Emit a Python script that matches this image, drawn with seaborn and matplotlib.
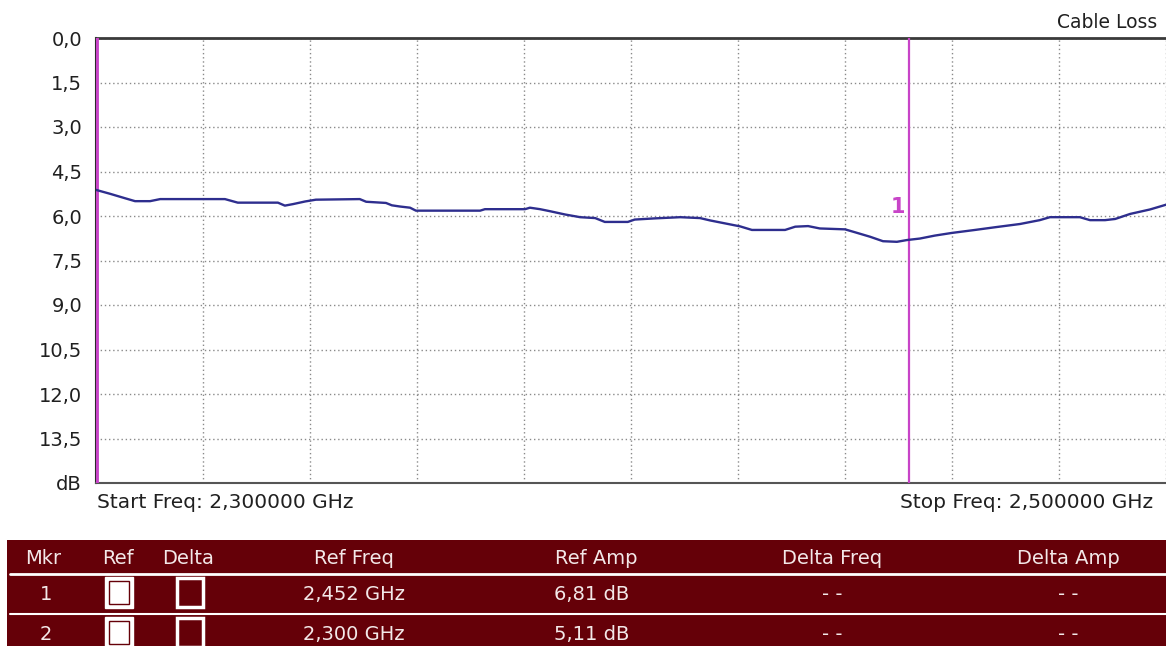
import numpy as np
import pandas as pd
import matplotlib.pyplot as plt
import seaborn as sns
from matplotlib.patches import Rectangle

# trace (GHz, dB)
freq_ghz = [2.3000, 2.3026, 2.3054, 2.3073, 2.3101, 2.3120, 2.3241, 2.3265, 2.3340, 2.3353,
            2.3368, 2.3391, 2.3411, 2.3493, 2.3505, 2.3542, 2.3553, 2.3568, 2.3587, 2.3598,
            2.3718, 2.3727, 2.3802, 2.3811, 2.3830, 2.3849, 2.3877, 2.3905, 2.3933, 2.3951,
            2.3994, 2.4007, 2.4045, 2.4092, 2.4129, 2.4148, 2.4176, 2.4204, 2.4226, 2.4288,
            2.4307, 2.4331, 2.4353, 2.4400, 2.4419, 2.4447, 2.4471, 2.4497, 2.4516, 2.4540,
            2.4568, 2.4600, 2.4643, 2.4680, 2.4727, 2.4764, 2.4783, 2.4839, 2.4858, 2.4886,
            2.4905, 2.4933, 2.4970, 2.5000]
loss_db = [5.12, 5.25, 5.40, 5.50, 5.50, 5.43, 5.43, 5.55, 5.55, 5.65,
           5.60, 5.51, 5.45, 5.43, 5.52, 5.56, 5.64, 5.68, 5.72, 5.82,
           5.82, 5.77, 5.77, 5.72, 5.77, 5.84, 5.95, 6.04, 6.07, 6.20,
           6.20, 6.12, 6.08, 6.04, 6.07, 6.15, 6.25, 6.35, 6.47, 6.47,
           6.36, 6.34, 6.42, 6.45, 6.55, 6.70, 6.85, 6.87, 6.81, 6.76,
           6.66, 6.57, 6.47, 6.38, 6.27, 6.14, 6.04, 6.04, 6.14, 6.14,
           6.10, 5.93, 5.78, 5.62]

marker_ids = ["1", "2"]
marker_freq = [2.452, 2.300]
marker_amp = [6.81, 5.11]

table_cols = ["Mkr", "Ref", "Delta", "Ref Freq", "Ref Amp", "Delta Freq", "Delta Amp"]
y_ticks = np.arange(0, 15.1, 1.5)
y_labels = ["0,0", "1,5", "3,0", "4,5", "6,0", "7,5", "9,0", "10,5", "12,0", "13,5", "dB"]
x_grid = np.linspace(2.30, 2.50, 11)
title = "Cable Loss"
start_label = "Start Freq: 2,300000 GHz"
stop_label = "Stop Freq: 2,500000 GHz"

sns.set_style("white")
plt.rcParams["font.family"] = ["DejaVu Sans"]

W, H = 1166, 646
fig = plt.figure(figsize=(W / 100, H / 100), dpi=100)

# pixel-space overlay for the texts and the marker table
bg = fig.add_axes([0, 0, 1, 1])
bg.set_xlim(0, W)
bg.set_ylim(H, 0)
bg.axis("off")

ax = fig.add_axes([96 / W, 1 - 483 / H, 1070 / W, 445 / H])
df = pd.DataFrame({"freq": freq_ghz, "loss": loss_db})
sns.lineplot(data=df, x="freq", y="loss", ax=ax, color="#2e2e8e", lw=1.7, zorder=4)

ax.set_xlim(2.30, 2.50)
ax.set_ylim(15, 0)
ax.set_xticks(x_grid)
ax.set_xticklabels([])
ax.set_yticks(y_ticks)
ax.set_yticklabels(y_labels, fontsize=14, color="#202020")
ax.tick_params(axis="both", length=0)
ax.tick_params(axis="y", pad=10)
ax.set_xlabel("")
ax.set_ylabel("")
ax.set_axisbelow(True)
ax.grid(True, color="#8a8a8a", ls=(0, (1, 2)), lw=1)

ax.spines["right"].set_visible(False)
ax.spines["top"].set_color("#3a3a3a")
ax.spines["top"].set_linewidth(2)
ax.spines["left"].set_color("#2a2a2a")
ax.spines["left"].set_linewidth(1.5)
ax.spines["bottom"].set_color("#555555")
ax.spines["bottom"].set_linewidth(1.5)

# markers
mag = "#c844c8"
for mid, mf, ma in zip(marker_ids, marker_freq, marker_amp):
    ax.axvline(mf, color=mag, lw=1.6 if mf > 2.30 else 3.5, zorder=3)
    if mf > 2.30:
        ax.annotate(mid, (mf, ma), xytext=(-3, 24), textcoords="offset points",
                    ha="right", va="center", fontsize=15, fontweight="bold", color=mag)

bg.text(1157, 22, title, ha="right", va="center", fontsize=13.5, color="#202020")
bg.text(97, 503, start_label, ha="left", va="center", fontsize=14.5, color="#202020")
bg.text(1153, 503, stop_label, ha="right", va="center", fontsize=14.5, color="#202020")

# marker table
maroon = "#650008"
txt = "#f3e8e8"
bg.add_patch(Rectangle((7, 540), W - 7, H - 540, fc=maroon, ec="none"))
bg.plot([10, W], [574, 574], color="white", lw=2)
bg.plot([10, W], [614, 614], color="white", lw=1.5)

col_x = [43, 118, 188, 354, 596, 832, 1068]
for name, cx in zip(table_cols, col_x):
    bg.text(cx, 558, name, ha="center", va="center", fontsize=14, color=txt)

row_y = [595, 635]
for mid, mf, ma, ry in zip(marker_ids, marker_freq, marker_amp, row_y):
    bg.text(col_x[0] + 3, ry, mid, ha="center", va="center", fontsize=14, color=txt)
    # Ref checkbox (white) and Delta checkbox (empty)
    bx = col_x[1] + 1
    bg.add_patch(Rectangle((bx - 14, ry - 18), 28, 31, fc="white", ec="white", lw=1))
    bg.add_patch(Rectangle((bx - 10, ry - 14), 20, 23, fc="white", ec=maroon, lw=1))
    dx = col_x[2] + 2
    bg.add_patch(Rectangle((dx - 13, ry - 17), 26, 29, fc="none", ec="white", lw=2.5))
    bg.text(col_x[3], ry, f"{mf:.3f} GHz".replace(".", ","), ha="center", va="center",
            fontsize=14, color=txt)
    bg.text(col_x[4] - 4, ry, f"{ma:.2f} dB".replace(".", ","), ha="center", va="center",
            fontsize=14, color=txt)
    bg.text(col_x[5], ry, "- -", ha="center", va="center", fontsize=14, color=txt)
    bg.text(col_x[6], ry, "- -", ha="center", va="center", fontsize=14, color=txt)

fig.savefig("out.png", dpi=100)
